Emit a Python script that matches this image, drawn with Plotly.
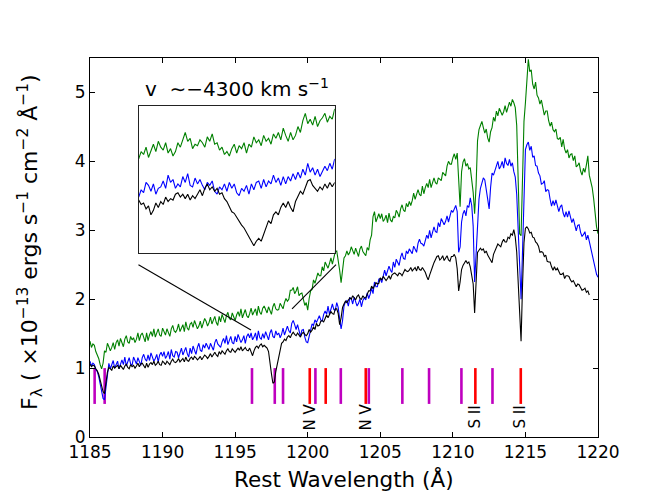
import plotly.graph_objects as go

# ---------------- data ----------------
WAVE_START = 1185.0
WAVE_STEP = 0.1
N_PIX = 351
wavelength = [round(WAVE_START + WAVE_STEP * i, 1) for i in range(N_PIX)]

flux_green = [
    1.39, 1.30, 1.35, 1.33, 1.24, 1.20, 1.14, 1.05, 0.99, 1.07,
    1.25, 1.23, 1.36, 1.31, 1.25, 1.30, 1.37, 1.27, 1.37, 1.41,
    1.32, 1.43, 1.37, 1.31, 1.42, 1.47, 1.38, 1.36, 1.46, 1.41,
    1.44, 1.37, 1.42, 1.51, 1.40, 1.48, 1.51, 1.43, 1.38, 1.51,
    1.40, 1.48, 1.53, 1.46, 1.57, 1.45, 1.50, 1.57, 1.48, 1.46,
    1.58, 1.53, 1.48, 1.57, 1.52, 1.46, 1.57, 1.62, 1.54, 1.52,
    1.56, 1.64, 1.53, 1.57, 1.63, 1.53, 1.67, 1.58, 1.55, 1.64,
    1.66, 1.59, 1.69, 1.63, 1.57, 1.61, 1.68, 1.58, 1.67, 1.72,
    1.68, 1.61, 1.66, 1.74, 1.64, 1.71, 1.75, 1.66, 1.62, 1.75,
    1.67, 1.78, 1.72, 1.66, 1.76, 1.81, 1.72, 1.70, 1.80, 1.75,
    1.69, 1.77, 1.82, 1.75, 1.86, 1.73, 1.78, 1.85, 1.76, 1.73,
    1.79, 1.87, 1.77, 1.81, 1.86, 1.76, 1.90, 1.81, 1.78, 1.87,
    1.90, 1.85, 1.80, 1.89, 1.84, 1.78, 1.89, 1.94, 1.86, 1.84,
    1.85, 1.94, 1.90, 1.86, 1.95, 2.01, 1.97, 2.00, 2.13, 2.13,
    2.17, 2.08, 2.12, 2.18, 2.05, 2.08, 2.09, 1.98, 1.91, 1.95,
    1.84, 2.01, 2.12, 2.14, 2.28, 2.23, 2.30, 2.38, 2.34, 2.34,
    2.47, 2.41, 2.54, 2.50, 2.45, 2.52, 2.60, 2.51, 2.63, 2.69,
    2.70, 2.57, 2.42, 2.24, 2.46, 2.60, 2.63, 2.70, 2.64, 2.68,
    2.76, 2.71, 2.65, 2.74, 2.68, 2.62, 2.73, 2.77, 2.69, 2.66,
    2.63, 2.75, 2.71, 2.86, 2.93, 3.20, 3.27, 3.12, 3.17, 3.24,
    3.17, 3.24, 3.13, 3.16, 3.22, 3.11, 3.25, 3.15, 3.12, 3.20,
    3.18, 3.29, 3.25, 3.19, 3.31, 3.37, 3.29, 3.27, 3.39, 3.34,
    3.42, 3.36, 3.43, 3.54, 3.45, 3.54, 3.59, 3.52, 3.50, 3.64,
    3.53, 3.62, 3.68, 3.62, 3.74, 3.62, 3.69, 3.76, 3.69, 3.67,
    3.76, 3.74, 3.72, 3.84, 3.81, 3.79, 3.93, 4.00, 3.96, 3.96,
    4.05, 4.11, 4.03, 4.12, 3.74, 3.34, 3.85, 3.99, 4.04, 3.93,
    3.97, 3.89, 3.91, 3.76, 3.55, 3.24, 3.65, 4.30, 4.46, 4.52,
    4.58, 4.49, 4.41, 4.47, 4.34, 4.28, 4.43, 4.49, 4.64, 4.58,
    4.73, 4.66, 4.77, 4.72, 4.67, 4.72, 4.81, 4.71, 4.81, 4.86,
    4.80, 4.90, 4.85, 4.78, 4.52, 3.85, 2.95, 2.92, 3.70, 4.58,
    4.85, 5.24, 5.48, 5.30, 5.33, 5.12, 5.05, 5.15, 4.96, 4.92,
    4.83, 4.89, 4.78, 4.67, 4.73, 4.73, 4.59, 4.51, 4.57, 4.46,
    4.43, 4.47, 4.33, 4.32, 4.35, 4.21, 4.32, 4.18, 4.12, 4.17,
    4.05, 4.10, 4.11, 4.01, 4.08, 3.92, 3.94, 3.98, 3.86, 3.80,
    3.90, 3.84, 3.95, 4.08, 3.80, 3.70, 3.62, 3.46, 3.24, 3.05,
    2.95,
]

flux_blue = [
    1.10, 1.03, 1.07, 1.05, 0.98, 0.95, 0.88, 0.77, 0.64, 0.56,
    0.54, 0.74, 0.95, 1.07, 0.99, 1.07, 1.11, 1.00, 1.04, 1.10,
    0.99, 1.07, 1.12, 1.05, 1.16, 1.03, 1.08, 1.15, 1.06, 1.04,
    1.16, 1.11, 1.06, 1.15, 1.10, 1.04, 1.15, 1.20, 1.13, 1.10,
    1.19, 1.11, 1.22, 1.16, 1.10, 1.14, 1.20, 1.09, 1.19, 1.23,
    1.17, 1.24, 1.14, 1.18, 1.24, 1.13, 1.27, 1.18, 1.16, 1.24,
    1.23, 1.15, 1.21, 1.29, 1.19, 1.26, 1.30, 1.21, 1.16, 1.29,
    1.21, 1.32, 1.26, 1.20, 1.30, 1.36, 1.26, 1.24, 1.34, 1.29,
    1.36, 1.32, 1.27, 1.36, 1.31, 1.26, 1.37, 1.42, 1.35, 1.33,
    1.30, 1.38, 1.43, 1.36, 1.47, 1.34, 1.40, 1.46, 1.37, 1.35,
    1.46, 1.38, 1.49, 1.43, 1.37, 1.41, 1.47, 1.36, 1.46, 1.50,
    1.44, 1.51, 1.41, 1.45, 1.51, 1.40, 1.54, 1.44, 1.42, 1.50,
    1.43, 1.53, 1.47, 1.41, 1.51, 1.56, 1.46, 1.44, 1.54, 1.48,
    1.51, 1.44, 1.49, 1.58, 1.48, 1.56, 1.61, 1.54, 1.51, 1.65,
    1.69, 1.63, 1.56, 1.63, 1.55, 1.46, 1.55, 1.56, 1.45, 1.38,
    1.37, 1.47, 1.55, 1.64, 1.62, 1.70, 1.66, 1.72, 1.76, 1.70,
    1.68, 1.78, 1.83, 1.78, 1.90, 1.78, 1.85, 1.93, 1.85, 1.84,
    1.95, 1.88, 1.71, 1.57, 1.69, 1.90, 1.96, 1.98, 1.90, 2.02,
    2.01, 1.93, 2.03, 1.97, 1.90, 1.94, 2.00, 1.89, 1.98, 2.02,
    1.99, 2.09, 2.01, 2.07, 2.16, 2.08, 2.25, 2.18, 2.18, 2.29,
    2.30, 2.24, 2.32, 2.42, 2.34, 2.43, 2.48, 2.42, 2.39, 2.54,
    2.46, 2.58, 2.54, 2.49, 2.61, 2.67, 2.59, 2.58, 2.70, 2.66,
    2.73, 2.70, 2.66, 2.77, 2.73, 2.68, 2.81, 2.87, 2.81, 2.80,
    2.77, 2.87, 2.93, 2.88, 3.00, 2.89, 2.97, 3.05, 2.98, 2.97,
    3.11, 3.05, 3.17, 3.13, 3.08, 3.13, 3.21, 3.12, 3.23, 3.29,
    3.26, 3.31, 3.36, 3.27, 2.68, 2.76, 3.12, 3.24, 3.29, 3.21,
    3.36, 3.33, 3.47, 3.36, 3.06, 2.25, 2.72, 3.16, 3.45, 3.61,
    3.68, 3.76, 3.73, 3.60, 3.42, 3.31, 3.62, 3.83, 3.80, 3.87,
    3.92, 4.00, 3.89, 3.93, 4.00, 3.90, 4.05, 3.97, 3.94, 4.03,
    3.93, 3.98, 3.85, 3.77, 3.52, 3.05, 2.40, 2.00, 2.70, 3.55,
    4.17, 4.24, 4.28, 4.16, 4.22, 4.06, 4.08, 3.94, 3.93, 3.83,
    3.79, 3.67, 3.68, 3.72, 3.56, 3.59, 3.58, 3.45, 3.35, 3.43,
    3.36, 3.44, 3.36, 3.27, 3.34, 3.37, 3.25, 3.19, 3.27, 3.19,
    3.28, 3.20, 3.11, 3.17, 3.08, 2.99, 3.07, 3.08, 2.97, 2.91,
    2.94, 2.98, 2.86, 2.93, 2.84, 2.75, 2.66, 2.56, 2.44, 2.36,
    2.32,
]

flux_black = [
    1.06, 1.02, 1.04, 1.03, 0.99, 0.96, 0.91, 0.83, 0.74, 0.66,
    0.63, 0.79, 0.94, 1.01, 0.99, 0.97, 1.03, 1.00, 1.02, 1.04,
    0.99, 1.04, 1.01, 0.98, 1.03, 1.06, 1.01, 0.99, 1.05, 1.02,
    1.04, 1.00, 1.03, 1.07, 1.02, 1.06, 1.07, 1.03, 1.00, 1.07,
    1.01, 1.06, 1.08, 1.05, 1.10, 1.04, 1.06, 1.10, 1.05, 1.04,
    1.10, 1.08, 1.05, 1.10, 1.08, 1.05, 1.10, 1.13, 1.09, 1.08,
    1.10, 1.14, 1.09, 1.11, 1.14, 1.09, 1.16, 1.11, 1.10, 1.14,
    1.16, 1.12, 1.17, 1.15, 1.12, 1.14, 1.17, 1.12, 1.16, 1.19,
    1.17, 1.14, 1.17, 1.21, 1.16, 1.20, 1.23, 1.19, 1.17, 1.24,
    1.20, 1.25, 1.23, 1.20, 1.25, 1.28, 1.24, 1.23, 1.28, 1.26,
    1.23, 1.26, 1.29, 1.26, 1.31, 1.25, 1.27, 1.30, 1.26, 1.25,
    1.29, 1.24, 1.18, 1.25, 1.30, 1.32, 1.29, 1.33, 1.35, 1.31,
    1.33, 1.31, 1.29, 1.24, 1.11, 0.92, 0.78, 0.80, 0.95, 1.06,
    1.15, 1.27, 1.36, 1.38, 1.42, 1.40, 1.45, 1.47, 1.44, 1.49,
    1.52, 1.49, 1.47, 1.51, 1.48, 1.45, 1.50, 1.52, 1.49, 1.47,
    1.50, 1.56, 1.52, 1.55, 1.60, 1.56, 1.65, 1.61, 1.62, 1.68,
    1.69, 1.67, 1.72, 1.77, 1.73, 1.79, 1.82, 1.79, 1.78, 1.86,
    1.86, 1.79, 1.63, 1.73, 1.88, 1.93, 1.97, 1.95, 1.99, 2.02,
    2.00, 2.05, 2.02, 1.99, 2.04, 2.06, 2.01, 2.00, 2.05, 2.02,
    2.02, 2.08, 2.12, 2.12, 2.19, 2.15, 2.19, 2.24, 2.22, 2.23,
    2.31, 2.28, 2.33, 2.30, 2.27, 2.30, 2.34, 2.29, 2.35, 2.37,
    2.38, 2.36, 2.34, 2.38, 2.37, 2.34, 2.40, 2.43, 2.41, 2.40,
    2.42, 2.46, 2.41, 2.43, 2.46, 2.41, 2.48, 2.43, 2.42, 2.46,
    2.43, 2.39, 2.33, 2.28, 2.35, 2.43, 2.47, 2.53, 2.57, 2.62,
    2.63, 2.57, 2.59, 2.63, 2.56, 2.60, 2.63, 2.57, 2.55, 2.62,
    2.62, 2.65, 2.60, 2.44, 2.12, 2.25, 2.43, 2.49, 2.53, 2.56,
    2.52, 2.54, 2.47, 2.37, 2.22, 1.80, 2.30, 2.68, 2.71, 2.74,
    2.71, 2.73, 2.67, 2.70, 2.64, 2.60, 2.58, 2.53, 2.65, 2.70,
    2.73, 2.80, 2.78, 2.76, 2.83, 2.87, 2.83, 2.83, 2.90, 2.88,
    2.95, 2.93, 3.01, 2.90, 2.68, 2.30, 1.75, 1.39, 2.20, 2.82,
    3.03, 3.05, 3.02, 2.96, 2.97, 2.90, 2.89, 2.83, 2.81, 2.77,
    2.68, 2.69, 2.68, 2.62, 2.64, 2.55, 2.54, 2.54, 2.47, 2.42,
    2.47, 2.42, 2.45, 2.40, 2.36, 2.36, 2.38, 2.30, 2.34, 2.34,
    2.33, 2.28, 2.25, 2.27, 2.22, 2.18, 2.22, 2.21, 2.17, 2.13,
    2.14, 2.16, 2.10, 2.12, 2.06, None, None, None, None, None,
    None,
]

# inset: velocity grid (km/s) and relative flux
INSET_V_START = -6000.0
INSET_V_STEP = 37.5
INSET_N = 81
inset_velocity = [INSET_V_START + INSET_V_STEP * i for i in range(INSET_N)]

inset_green = [
    0.64, 0.69, 0.67, 0.72, 0.65, 0.70, 0.74, 0.69, 0.76, 0.72,
    0.70, 0.75, 0.68, 0.71, 0.66, 0.69, 0.75, 0.72, 0.77, 0.82,
    0.76, 0.78, 0.71, 0.74, 0.73, 0.77, 0.75, 0.72, 0.79, 0.76,
    0.81, 0.74, 0.75, 0.70, 0.72, 0.67, 0.69, 0.66, 0.71, 0.74,
    0.68, 0.73, 0.71, 0.75, 0.68, 0.74, 0.72, 0.79, 0.75, 0.77,
    0.73, 0.80, 0.76, 0.78, 0.74, 0.81, 0.78, 0.82, 0.77, 0.85,
    0.80, 0.76, 0.82, 0.77, 0.80, 0.86, 0.82, 0.90, 0.95, 0.88,
    0.91, 0.87, 0.93, 0.86, 0.90, 0.92, 0.95, 0.89, 0.93, 0.91,
    0.98,
]
inset_blue = [
    0.38, 0.43, 0.41, 0.48, 0.46, 0.42, 0.47, 0.40, 0.44, 0.45,
    0.49, 0.44, 0.53, 0.48, 0.50, 0.44, 0.47, 0.45, 0.52, 0.48,
    0.54, 0.46, 0.45, 0.51, 0.47, 0.50, 0.46, 0.43, 0.48, 0.46,
    0.49, 0.42, 0.40, 0.45, 0.43, 0.47, 0.42, 0.48, 0.44, 0.47,
    0.41, 0.39, 0.44, 0.42, 0.46, 0.40, 0.47, 0.43, 0.48, 0.49,
    0.44, 0.50, 0.45, 0.49, 0.47, 0.53, 0.48, 0.51, 0.46, 0.52,
    0.47, 0.52, 0.49, 0.54, 0.50, 0.55, 0.51, 0.57, 0.53, 0.61,
    0.55, 0.58, 0.53, 0.57, 0.52, 0.55, 0.59, 0.56, 0.61, 0.57,
    0.64,
]
inset_black = [
    0.36, 0.33, 0.34, 0.30, 0.32, 0.26, 0.29, 0.34, 0.31, 0.35,
    0.33, 0.38, 0.35, 0.37, 0.36, 0.40, 0.41, 0.38, 0.40, 0.37,
    0.40, 0.36, 0.39, 0.37, 0.40, 0.43, 0.39, 0.44, 0.47, 0.43,
    0.45, 0.42, 0.44, 0.40, 0.41, 0.37, 0.35, 0.31, 0.28, 0.27,
    0.24, 0.21, 0.19, 0.17, 0.14, 0.12, 0.08, 0.05, 0.08, 0.10,
    0.08, 0.13, 0.18, 0.22, 0.20, 0.26, 0.28, 0.26, 0.31, 0.34,
    0.31, 0.35, 0.31, 0.28, 0.35, 0.39, 0.42, 0.40, 0.45, 0.49,
    0.50, 0.46, 0.44, 0.42, 0.45, 0.43, 0.47, 0.44, 0.48, 0.45,
    0.48,
]

# absorption line markers
magenta_lines = [1185.32, 1186.01, 1196.16, 1197.73, 1198.30, 1200.53,
                 1202.28, 1204.21, 1206.52, 1208.36, 1210.59, 1212.73]
red_lines = [1200.14, 1201.24, 1204.00, 1211.55, 1214.68]
MARK_BOTTOM = 0.48
MARK_TOP = 1.0
label_waves = [1200.19, 1204.05, 1211.56, 1214.66]
label_texts = ["N V", "N V", "S II", "S II"]
LABEL_Y = 0.29

# zoom connector lines (main data coords)
connector_x = [[1188.34, 1196.09], [1201.95, 1198.92]]
connector_y = [[2.50, 1.553], [2.50, 1.858]]

x_ticks = [1185, 1190, 1195, 1200, 1205, 1210, 1215, 1220]
y_ticks = [0, 1, 2, 3, 4, 5]

# ---------------- figure ----------------
FONT = "DejaVu Sans"
fig = go.Figure()


def marker_xy(waves):
    xs, ys = [], []
    for w in waves:
        xs += [w, w, None]
        ys += [MARK_BOTTOM, MARK_TOP, None]
    return xs, ys


mx, my = marker_xy(magenta_lines)
fig.add_trace(go.Scatter(x=mx, y=my, mode="lines",
                         line=dict(color="#bf00bf", width=2.6), hoverinfo="skip"))
rx, ry = marker_xy(red_lines)
fig.add_trace(go.Scatter(x=rx, y=ry, mode="lines",
                         line=dict(color="#ff0000", width=2.6), hoverinfo="skip"))

for ys, col in [(flux_green, "#008000"), (flux_blue, "#0000ff"), (flux_black, "#000000")]:
    fig.add_trace(go.Scatter(x=wavelength, y=ys, mode="lines",
                             line=dict(color=col, width=1.1), connectgaps=False))

for cx, cy in zip(connector_x, connector_y):
    fig.add_trace(go.Scatter(x=cx, y=cy, mode="lines",
                             line=dict(color="black", width=1.1), hoverinfo="skip"))

for ys, col in [(inset_green, "#008000"), (inset_blue, "#0000ff"), (inset_black, "#000000")]:
    fig.add_trace(go.Scatter(x=inset_velocity, y=ys, mode="lines",
                             line=dict(color=col, width=1.1),
                             xaxis="x2", yaxis="y2"))

L, R, T, B = 82, 64, 50, 62
W, H = 654, 491
pw, ph = W - L - R, H - T - B

axis_common = dict(showline=True, linecolor="black", linewidth=1, mirror="ticks",
                   ticks="inside", ticklen=5, tickwidth=1, tickcolor="black",
                   showgrid=False, zeroline=False,
                   tickfont=dict(family=FONT, size=17, color="black"))

inset_x0 = (130.7 - L) / pw
inset_x1 = (326.7 - L) / pw
inset_y0 = (H - B - 245) / ph
inset_y1 = (H - B - 98) / ph

fig.update_layout(
    width=W, height=H,
    margin=dict(l=L, r=R, t=T, b=B),
    paper_bgcolor="white", plot_bgcolor="white",
    showlegend=False,
    font=dict(family=FONT, color="black"),
    xaxis=dict(range=[1185, 1220], tickvals=x_ticks,
               ticktext=[str(v) for v in x_ticks], **axis_common),
    yaxis=dict(range=[0, 5.5], tickvals=y_ticks,
               ticktext=[str(v) for v in y_ticks], **axis_common),
    xaxis2=dict(domain=[inset_x0, inset_x1], anchor="y2", range=[-6000, -3000],
                showticklabels=False, ticks="", showgrid=False, zeroline=False,
                showline=True, mirror=True, linecolor="#222222", linewidth=1),
    yaxis2=dict(domain=[inset_y0, inset_y1], anchor="x2", range=[0, 1],
                showticklabels=False, ticks="", showgrid=False, zeroline=False,
                showline=True, mirror=True, linecolor="#222222", linewidth=1),
    shapes=[dict(type="rect", xref="x2 domain", yref="y2 domain",
                 x0=0, x1=1, y0=0, y1=1, fillcolor="#dcdcdc",
                 line=dict(width=0), layer="below")],
)

annotations = []
for w, t in zip(label_waves, label_texts):
    annotations.append(dict(x=w, y=LABEL_Y, xref="x", yref="y", text=t,
                            textangle=-90, showarrow=False,
                            xanchor="center", yanchor="middle",
                            font=dict(family=FONT, size=15, color="black")))

annotations.append(dict(x=(inset_x0 + inset_x1) / 2, y=(H - B - 80) / ph,
                        xref="paper", yref="paper",
                        text="v\u00a0\u00a0\u223c\u22124300 km s<sup>\u22121</sup>",
                        showarrow=False, xanchor="center", yanchor="middle",
                        font=dict(family=FONT, size=20, color="black")))
annotations.append(dict(x=0.5, y=(H - B - 471) / ph, xref="paper", yref="paper",
                        text="Rest Wavelength (Å)", showarrow=False,
                        xanchor="center", yanchor="middle",
                        font=dict(family=FONT, size=21.5, color="black")))
annotations.append(dict(x=(22 - L) / pw, y=(H - B - 234) / ph, xref="paper", yref="paper",
                        text="F<sub>λ</sub> ( ×10<sup>−13</sup> ergs s<sup>−1</sup> "
                             "cm<sup>−2</sup> Å<sup>−1</sup>)",
                        textangle=-90, showarrow=False,
                        xanchor="center", yanchor="middle",
                        font=dict(family=FONT, size=22, color="black")))
fig.update_layout(annotations=annotations)

fig.write_html("out.html")
